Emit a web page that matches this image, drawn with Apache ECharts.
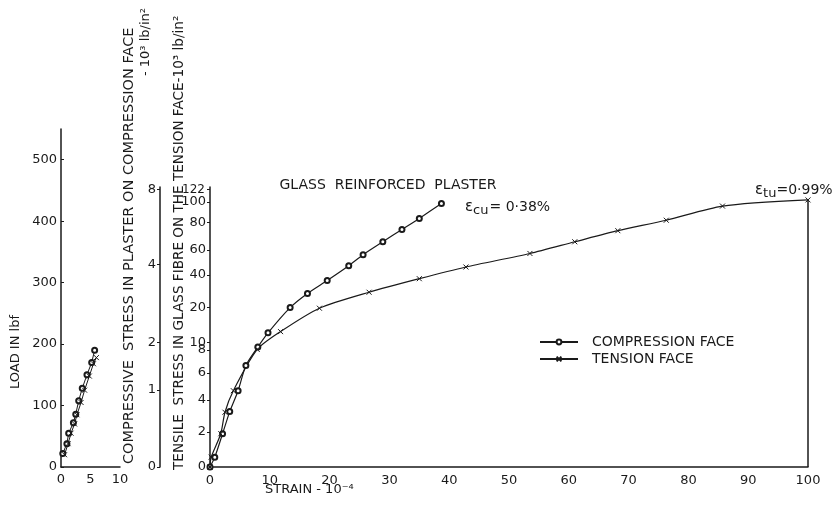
<!DOCTYPE html>
<html>
<head>
<meta charset="utf-8">
<script src="https://cdn.jsdelivr.net/npm/echarts@6/dist/echarts.min.js"></script>
<style>
  html, body { margin: 0; padding: 0; background: #fff; }
  #chart { width: 840px; height: 507px; }
</style>
</head>
<body>
<div id="chart"></div>
<script>
// small load panel: strain (10^-4) vs load (lbf)
const loadCompression = [[0.3, 22], [1.0, 38], [1.3, 55], [2.1, 72], [2.5, 86], [3.0, 108], [3.6, 128], [4.4, 150], [5.2, 170], [5.7, 190]];
const loadTension = [[0.6, 20], [1.2, 38], [1.7, 55], [2.3, 70], [2.7, 85], [3.4, 105], [4.0, 125], [4.8, 148], [5.5, 168], [6.0, 178]];
const loadTicks = [0, 100, 200, 300, 400, 500];
const smallStrainTicks = [0, 5, 10];

// main panel: strain (10^-4) vs load position, read against the stress scales
const compressionFace = [[0, 0], [0.8, 16], [2.1, 54], [3.3, 90], [4.7, 124], [6.0, 165], [8.0, 195], [9.7, 218], [13.4, 259], [16.3, 282], [19.6, 303], [23.2, 327], [25.6, 345], [28.9, 366], [32.1, 386], [35.0, 404], [38.7, 428]];
const tensionFace = [[0, 0], [0.2, 16], [1.8, 54], [2.5, 89], [3.9, 124], [7.9, 191], [11.8, 220], [18.3, 258], [26.6, 284], [35.0, 306], [42.8, 325], [53.5, 347], [61.0, 366], [68.2, 384], [76.3, 401], [85.7, 424], [100, 434]];

// stress scales: tick value and the load position it sits at
const tensileStress = [0, 2, 4, 6, 8, 10, 20, 40, 60, 80, 100, 122];
const tensileStressAt = [0, 57, 109, 153, 190, 202, 259, 312, 353, 397, 431, 451];
const compressiveStress = [0, 1, 2, 4, 8];
const compressiveStressAt = [0, 125, 202, 329, 451];

const font = 'DejaVu Sans';
const ink = '#1a1a1a';
const crossMark = 'path://M0 0L10 10M10 0L0 10';

function labelLookup(values, at) {
  const m = {};
  at.forEach((p, i) => { m[p] = String(values[i]); });
  return (v) => (m[v] !== undefined ? m[v] : '');
}

const axisLabelBase = { color: ink, fontFamily: font, fontSize: 13, showMinLabel: true, showMaxLabel: true, hideOverlap: false };
const tensileLabel = labelLookup(tensileStress, tensileStressAt);

const chart = echarts.init(document.getElementById('chart'), null, { renderer: 'canvas' });

chart.setOption({
  animation: false,
  backgroundColor: '#fff',
  grid: [
    { left: 61, right: 720, top: 129, bottom: 40 },
    { left: 210, right: 32, top: 187, bottom: 40 }
  ],
  xAxis: [
    {
      gridIndex: 0, type: 'value', min: 0, max: 10, interval: 5,
      axisLine: { lineStyle: { color: ink, width: 1.5 } },
      axisTick: { show: false },
      splitLine: { show: false },
      axisLabel: { ...axisLabelBase, margin: 6, customValues: smallStrainTicks }
    },
    {
      gridIndex: 1, type: 'value', min: 0, max: 100, interval: 10,
      axisLine: { lineStyle: { color: ink, width: 1.5 } },
      axisTick: { show: false },
      splitLine: { show: false },
      axisLabel: { ...axisLabelBase, margin: 7 }
    }
  ],
  yAxis: [
    {
      gridIndex: 0, type: 'value', min: 0, max: 550,
      axisLine: { show: true, lineStyle: { color: ink, width: 1.5 } },
      axisTick: { show: true, inside: true, length: 3, customValues: loadTicks, lineStyle: { color: ink } },
      splitLine: { show: false },
      axisLabel: { ...axisLabelBase, margin: 4, customValues: loadTicks }
    },
    {
      gridIndex: 1, type: 'value', min: 0, max: 455, position: 'left',
      axisLine: { show: true, lineStyle: { color: ink, width: 1.5 } },
      axisTick: { show: true, length: 3, customValues: tensileStressAt, lineStyle: { color: ink } },
      splitLine: { show: false },
      axisLabel: { ...axisLabelBase, margin: 4, customValues: tensileStressAt.slice(0, -1), formatter: tensileLabel }
    },
    {
      gridIndex: 1, type: 'value', min: 0, max: 455, position: 'left', offset: 50,
      axisLine: { show: true, lineStyle: { color: ink, width: 1.5 } },
      axisTick: { show: true, length: 3, customValues: compressiveStressAt, lineStyle: { color: ink } },
      splitLine: { show: false },
      axisLabel: { ...axisLabelBase, margin: 4, customValues: compressiveStressAt,
        formatter: labelLookup(compressiveStress, compressiveStressAt) }
    },
    {
      // top tensile label sits tight above the 100 label
      gridIndex: 1, type: 'value', min: 0, max: 455, position: 'left',
      axisLine: { show: false }, axisTick: { show: false }, splitLine: { show: false },
      axisLabel: { ...axisLabelBase, fontSize: 12, margin: 5,
        customValues: tensileStressAt.slice(-1), formatter: tensileLabel }
    }
  ],
  legend: {
    left: 534, top: 330, orient: 'vertical', itemWidth: 38, itemHeight: 6, itemGap: 3,
    textStyle: { color: ink, fontFamily: font, fontSize: 14, padding: [0, 0, 0, 9] },
    data: ['COMPRESSION FACE', 'TENSION FACE']
  },
  series: [
    {
      name: 'COMPRESSION FACE', type: 'line', xAxisIndex: 0, yAxisIndex: 0,
      data: loadCompression, symbol: 'emptyCircle', symbolSize: 5,
      lineStyle: { color: ink, width: 1 },
      itemStyle: { color: ink, borderColor: ink, borderWidth: 1 }
    },
    {
      name: 'TENSION FACE', type: 'line', xAxisIndex: 0, yAxisIndex: 0,
      data: loadTension, symbol: crossMark, symbolSize: 5,
      lineStyle: { color: ink, width: 1 },
      itemStyle: { color: ink, borderColor: ink, borderWidth: 1 }
    },
    {
      name: 'COMPRESSION FACE', type: 'line', xAxisIndex: 1, yAxisIndex: 1,
      data: compressionFace, smooth: 0.25, symbol: 'emptyCircle', symbolSize: 5,
      lineStyle: { color: ink, width: 1.2 },
      itemStyle: { color: ink, borderColor: ink, borderWidth: 1 }
    },
    {
      name: 'TENSION FACE', type: 'line', xAxisIndex: 1, yAxisIndex: 1,
      data: tensionFace, smooth: 0.25, symbol: crossMark, symbolSize: 5,
      lineStyle: { color: ink, width: 1.2 },
      itemStyle: { color: ink, borderColor: ink, borderWidth: 1 }
    },
    {
      name: 'failure', type: 'line', xAxisIndex: 1, yAxisIndex: 1,
      data: [tensionFace[tensionFace.length - 1], [tensionFace[tensionFace.length - 1][0], 0]],
      showSymbol: false, lineStyle: { color: ink, width: 1.5 }
    }
  ],
  graphic: [
    { type: 'text', x: 16, y: 352, rotation: Math.PI / 2,
      style: { text: 'LOAD IN lbf', fill: ink, font: '13px "DejaVu Sans"', textAlign: 'center', textVerticalAlign: 'middle' } },
    { type: 'text', x: 129, y: 464, rotation: Math.PI / 2,
      style: { text: 'COMPRESSIVE  STRESS IN PLASTER ON COMPRESSION FACE', fill: ink, font: '14.5px "DejaVu Sans"', textAlign: 'left', textVerticalAlign: 'middle' } },
    { type: 'text', x: 146, y: 8, rotation: Math.PI / 2,
      style: { text: '- 10³ lb/in²', fill: ink, font: '13px "DejaVu Sans"', textAlign: 'right', textVerticalAlign: 'middle' } },
    { type: 'text', x: 179, y: 470, rotation: Math.PI / 2,
      style: { text: 'TENSILE  STRESS IN GLASS FIBRE ON THE TENSION FACE-10³ lb/in²', fill: ink, font: '13.6px "DejaVu Sans"', textAlign: 'left', textVerticalAlign: 'middle' } },
    { type: 'text', x: 388, y: 185,
      style: { text: 'GLASS  REINFORCED  PLASTER', fill: ink, font: '14px "DejaVu Sans"', textAlign: 'center', textVerticalAlign: 'middle' } },
    { type: 'text', x: 465, y: 207,
      style: { text: '{e|ε}{s|cu}{n|= 0·38%}', fill: ink, textVerticalAlign: 'middle',
        rich: { e: { font: '15px "DejaVu Sans"' }, s: { font: '13px "DejaVu Sans"', padding: [7, 1, 0, 0] }, n: { font: '14px "DejaVu Sans"' } } } },
    { type: 'text', x: 755, y: 190,
      style: { text: '{e|ε}{s|tu}{n|=0·99%}', fill: ink, textVerticalAlign: 'middle',
        rich: { e: { font: '15px "DejaVu Sans"' }, s: { font: '13px "DejaVu Sans"', padding: [7, 0, 0, 0] }, n: { font: '14px "DejaVu Sans"' } } } },
    { type: 'text', x: 265, y: 490,
      style: { text: 'STRAIN - 10⁻⁴', fill: ink, font: '13px "DejaVu Sans"', textAlign: 'left', textVerticalAlign: 'middle' } }
  ]
});
</script>
</body>
</html>
